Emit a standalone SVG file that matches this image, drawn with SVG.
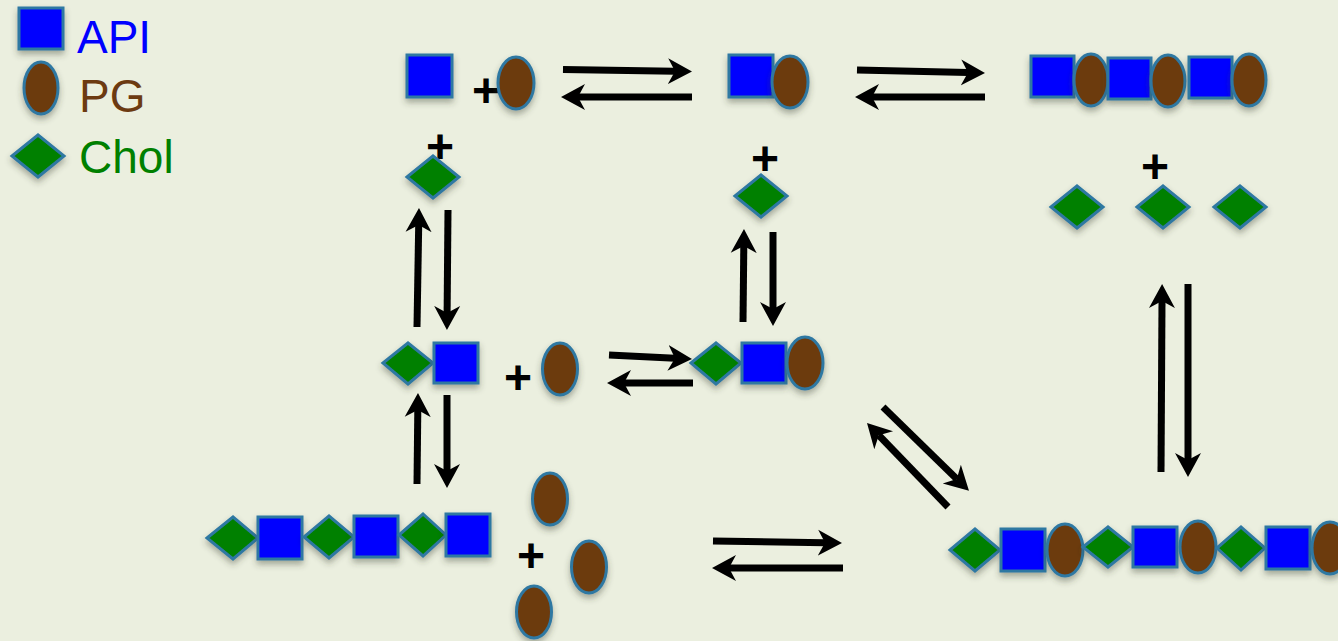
<svg xmlns="http://www.w3.org/2000/svg" width="1338" height="641" viewBox="0 0 1338 641">
<defs>
<style>
.api{fill:#0000FF;stroke:#2F78A2;stroke-width:3;filter:url(#sh)}
.pg{fill:#6C3A11;stroke:#2F78A2;stroke-width:3;filter:url(#sh)}
.ch{fill:#008000;stroke:#2F78A2;stroke-width:3;filter:url(#sh)}
.plus{font-family:"Liberation Sans",Arial,sans-serif;font-weight:bold;font-size:48px;fill:#000;text-anchor:middle}
.lg{font-family:"Liberation Sans",Arial,sans-serif;font-size:46px}
.ar{stroke:#000;stroke-width:7;fill:none;marker-end:url(#hd)}
</style>
<filter id="sh" x="-30%" y="-30%" width="160%" height="170%">
<feDropShadow dx="0" dy="4" stdDeviation="3" flood-color="#3a4030" flood-opacity="0.4"/>
</filter>
<marker id="hd" markerUnits="userSpaceOnUse" markerWidth="26" markerHeight="28" viewBox="0 -14 26 28" refX="7" refY="0" orient="auto">
<path d="M24,0 L0,-13 L7,0 L0,13 Z" fill="#000"/>
</marker>
</defs>
<rect width="1338" height="641" fill="#EBEFDF"/>

<g id="legend">
<rect class="api" x="19" y="8" width="44" height="41"/>
<text class="lg" x="77" y="53" fill="#0000FF">API</text>
<ellipse class="pg" cx="41" cy="88" rx="17" ry="26"/>
<text class="lg" x="79" y="112" fill="#6C3A11">PG</text>
<polygon class="ch" points="12,156 38,135 64,156 38,177"/>
<text class="lg" x="79" y="173" fill="#008000">Chol</text>
</g>

<g id="connectors">
<path class="ar" d="M563,69.5 L675,71.3"/>
<path class="ar" d="M692,97 L578,97"/>
<path class="ar" d="M857,70 L968,72.6"/>
<path class="ar" d="M985,97 L872,97"/>
<path class="ar" d="M417,327 L418.7,225"/>
<path class="ar" d="M448,210 L447.1,313"/>
<path class="ar" d="M417,484 L417.8,410"/>
<path class="ar" d="M447,395 L447,471"/>
<path class="ar" d="M743,322 L743.8,246"/>
<path class="ar" d="M773,232 L773,309"/>
<path class="ar" d="M1161,472 L1162,301"/>
<path class="ar" d="M1188,284 L1188,460"/>
<path class="ar" d="M609,355 L675,358.2"/>
<path class="ar" d="M693,383 L624,383"/>
<path class="ar" d="M713,541 L825,542.8"/>
<path class="ar" d="M843,568 L729,568"/>
<path class="ar" d="M883,407 L956.8,479"/>
<path class="ar" d="M948,507 L878.8,435.2"/>
</g>

<g id="node-api-pg-chol">
<rect class="api" x="407" y="55" width="45" height="42"/>
<text class="plus" x="486" y="107">+</text>
<ellipse class="pg" cx="516" cy="83" rx="18" ry="26"/>
<text class="plus" x="440" y="163">+</text>
<polygon class="ch" points="407,177 433,156 459,177 433,198"/>
</g>

<g id="node-apipg-chol">
<rect class="api" x="729" y="55" width="44" height="42"/>
<ellipse class="pg" cx="790" cy="82" rx="18" ry="26"/>
<text class="plus" x="765" y="175">+</text>
<polygon class="ch" points="735,196 761,175 787,196 761,217"/>
</g>

<g id="node-apipg3-chol3">
<rect class="api" x="1031" y="56" width="43" height="41"/>
<ellipse class="pg" cx="1091" cy="80" rx="17" ry="26"/>
<rect class="api" x="1108" y="58" width="43" height="41"/>
<ellipse class="pg" cx="1168" cy="81" rx="17" ry="26"/>
<rect class="api" x="1189" y="57" width="43" height="41"/>
<ellipse class="pg" cx="1249" cy="80" rx="17" ry="26"/>
<text class="plus" x="1155" y="183">+</text>
<polygon class="ch" points="1051,207 1077,186 1103,207 1077,228"/>
<polygon class="ch" points="1137,207 1163,186 1189,207 1163,228"/>
<polygon class="ch" points="1214,207 1240,186 1266,207 1240,228"/>
</g>

<g id="node-cholapi-pg">
<polygon class="ch" points="383,363 408,343 433,363 408,384"/>
<rect class="api" x="434" y="343" width="44" height="40"/>
<text class="plus" x="518" y="394">+</text>
<ellipse class="pg" cx="560" cy="369" rx="17.5" ry="26"/>
</g>

<g id="node-cholapipg">
<polygon class="ch" points="691,363 716,343 741,363 716,384"/>
<rect class="api" x="742" y="343" width="44" height="40"/>
<ellipse class="pg" cx="805" cy="363" rx="18" ry="26"/>
</g>

<g id="node-cholapi3-pg3">
<polygon class="ch" points="207,538 233,517 258,538 233,559"/>
<rect class="api" x="258" y="517" width="44" height="42"/>
<polygon class="ch" points="304,537 329,516 354,537 329,558"/>
<rect class="api" x="354" y="516" width="44" height="41"/>
<polygon class="ch" points="399,535 423,514 446,535 423,556"/>
<rect class="api" x="446" y="514" width="44" height="42"/>
<ellipse class="pg" cx="550" cy="499" rx="17.5" ry="26"/>
<text class="plus" x="531" y="572">+</text>
<ellipse class="pg" cx="589" cy="567" rx="17.5" ry="26"/>
<ellipse class="pg" cx="534" cy="612" rx="17.5" ry="26"/>
</g>

<g id="node-cholapipg3">
<polygon class="ch" points="950,550 975,529 1000,550 975,571"/>
<rect class="api" x="1001" y="529" width="44" height="42"/>
<ellipse class="pg" cx="1065" cy="550" rx="18" ry="26"/>
<polygon class="ch" points="1083,547 1108,527 1133,547 1108,567"/>
<rect class="api" x="1133" y="527" width="44" height="40"/>
<ellipse class="pg" cx="1198" cy="547" rx="18" ry="26"/>
<polygon class="ch" points="1217,548 1241,527 1265,548 1241,570"/>
<rect class="api" x="1266" y="527" width="44" height="42"/>
<ellipse class="pg" cx="1330" cy="548" rx="18" ry="26"/>
</g>
</svg>
